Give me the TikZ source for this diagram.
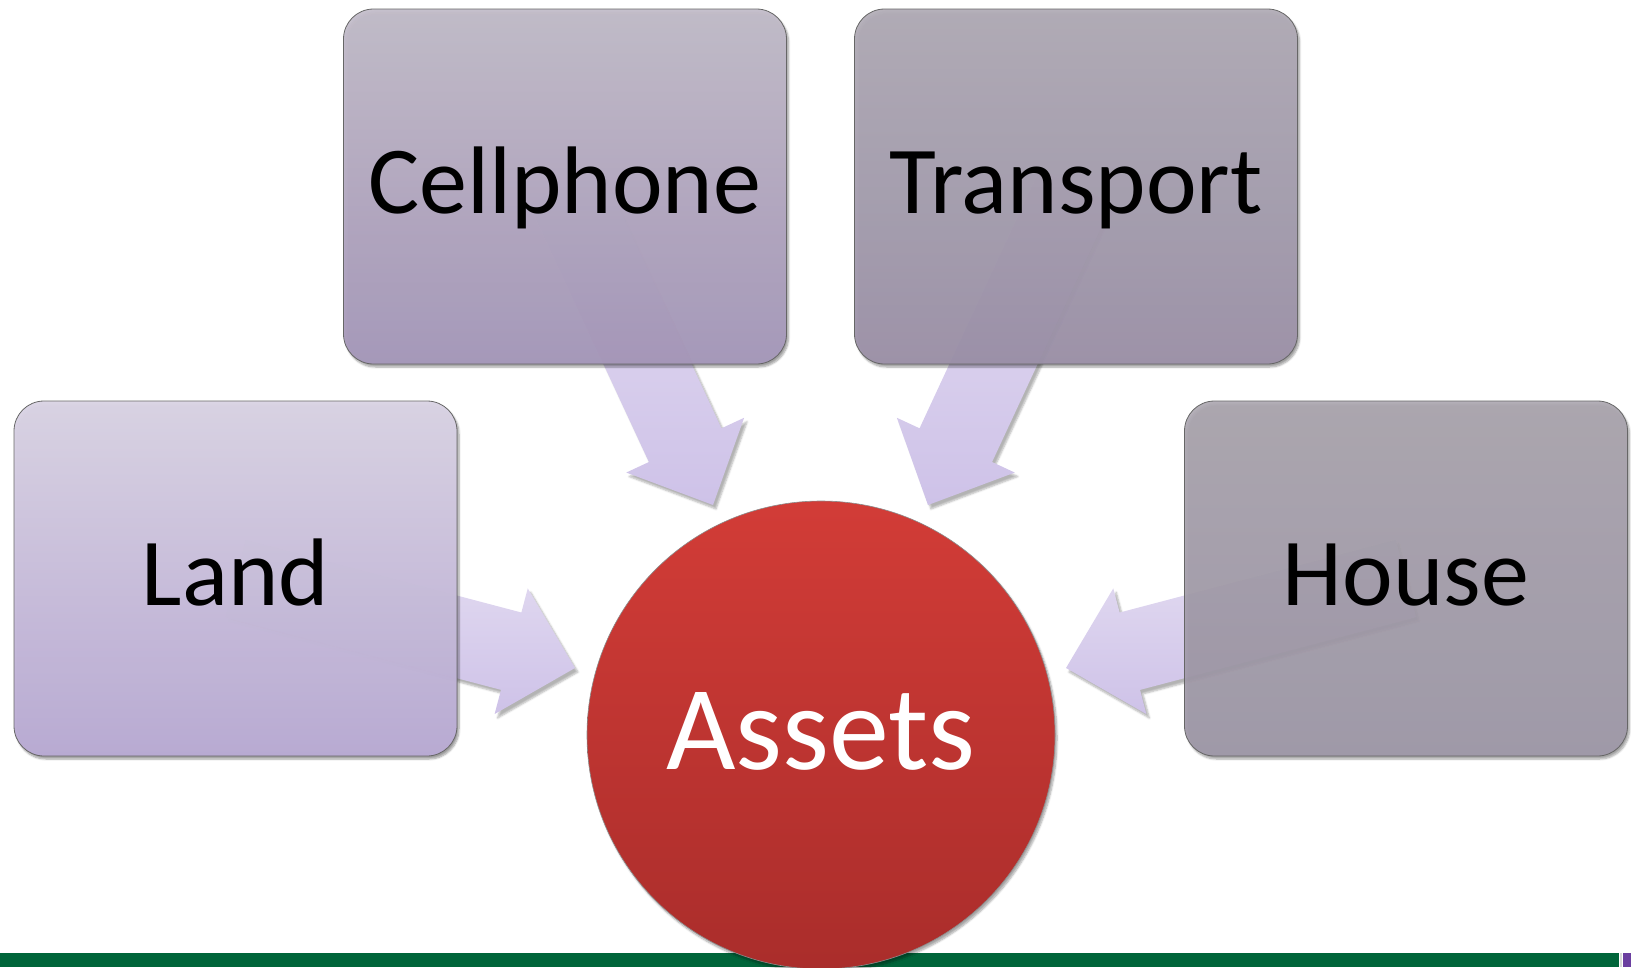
\documentclass[tikz,border=0pt]{standalone}
\usepackage{fontspec}
\setmainfont{Carlito}
\usetikzlibrary{calc,shadows.blur}

\definecolor{landTop}{HTML}{DAD4E4}
\definecolor{landBot}{HTML}{BAABD4}
\definecolor{cellTop}{HTML}{C3BDCA}
\definecolor{cellBot}{HTML}{A798BB}
\definecolor{tranTop}{HTML}{B2ADB7}
\definecolor{tranBot}{HTML}{9D92AA}
\definecolor{housTop}{HTML}{ACA7B0}
\definecolor{housBot}{HTML}{A098A9}
\definecolor{arrTop}{HTML}{E5DEF2}
\definecolor{arrBot}{HTML}{CEC2E8}
\definecolor{redTop}{HTML}{D23C37}
\definecolor{redBot}{HTML}{AA2D2B}
\definecolor{barGreen}{HTML}{00653A}
\definecolor{barPurple}{HTML}{6B3FA0}

% block arrow from #1 (tail) to #2 (tip)
\newcommand{\blockarrow}[2]{%
  \coordinate (ba-h) at ($(#2)!66pt!(#1)$);
  \path[arrowshape]
    ($(#1)!40pt!90:(#2)$) -- ($(ba-h)!40pt!90:(#2)$) -- ($(ba-h)!65pt!90:(#2)$)
    -- (#2)
    -- ($(ba-h)!65pt!-90:(#2)$) -- ($(ba-h)!40pt!-90:(#2)$) -- ($(#1)!40pt!-90:(#2)$)
    -- cycle;
}

\begin{document}
\begin{tikzpicture}[x=1pt,y=-1pt,
  tile/.style={rounded corners=30pt, draw=black!60, line width=0.8pt,
    fill opacity=0.94, text opacity=1, inner sep=0pt,
    minimum width=443pt, minimum height=355pt,
    text height=62pt, text depth=8pt,
    font=\fontsize{96}{100}\selectfont,
    blur shadow={shadow xshift=2pt, shadow yshift=-3pt, shadow blur steps=6, shadow opacity=40}},
  arrowshape/.style={top color=arrTop, bottom color=arrBot, draw=none,
    blur shadow={shadow xshift=3pt, shadow yshift=-4pt, shadow blur steps=5, shadow opacity=30}},
  hub/.style={circle, inner sep=0pt, minimum size=468pt, draw=black!45, line width=0.6pt,
    top color=redTop, bottom color=redBot, text=white,
    text height=77pt, text depth=9pt,
    font=\fontsize{120}{120}\selectfont,
    blur shadow={shadow xshift=2pt, shadow yshift=-3pt, shadow blur steps=6, shadow opacity=35}}
]
\useasboundingbox (0,0) rectangle (1631,967);

% positions of the four boxes and the arrow tips
\coordinate (cLand) at (235.5,578.5);
\coordinate (cCell) at (565,186.5);
\coordinate (cTran) at (1076,186.5);
\coordinate (cHous) at (1406,578.5);
\coordinate (tipLand) at (575,668);
\coordinate (tipCell) at (713,505);
\coordinate (tipTran) at (928,505);
\coordinate (tipHous) at (1066,668);

% arrows lie beneath the translucent boxes
\blockarrow{cLand}{tipLand}
\blockarrow{cCell}{tipCell}
\blockarrow{cTran}{tipTran}
\blockarrow{cHous}{tipHous}

% boxes
\node[tile, fill opacity=0.97, top color=landTop, bottom color=landBot] (land) at (cLand) {Land};
\node[tile, top color=cellTop, bottom color=cellBot] (cell) at (cCell) {Cellphone};
\node[tile, top color=tranTop, bottom color=tranBot] (tran) at (cTran) {Transport};
\node[tile, fill opacity=0.9, top color=housTop, bottom color=housBot] (hous) at (cHous) {House};

% footer band
\fill[barGreen] (0,953) rectangle (1619,967);
\fill[black!15] (1620,953) rectangle (1622,967);
\fill[barPurple] (1623,953) rectangle (1631,967);

% central circle
\node[hub] (assets) at (821,735) {Assets};
\end{tikzpicture}
\end{document}
